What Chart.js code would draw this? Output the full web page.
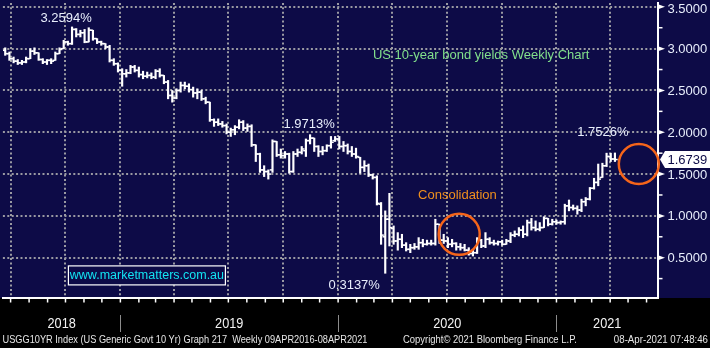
<!DOCTYPE html>
<html>
<head>
<meta charset="utf-8">
<title>US 10-year bond yields Weekly Chart</title>
<script src="https://cdn.jsdelivr.net/npm/chart.js@4.4.0/dist/chart.umd.min.js"></script>
<style>
  html, body { margin: 0; padding: 0; background: #000; }
  #wrap { position: relative; width: 710px; height: 348px; }
</style>
</head>
<body>
<div id="wrap"><canvas id="yieldChart"></canvas></div>
<script>
// USGG10YR weekly bars, first bar is the week ending 22 Jun 2018
const firstWeek = "2018-06-22";

const weekOpen = [
  2.98, 2.94, 2.88, 2.85, 2.83, 2.84, 2.88, 2.97, 2.95, 2.87,
  2.84, 2.86, 2.86, 2.94, 3.00, 3.08, 3.06, 3.23, 3.17, 3.19,
  3.08, 3.22, 3.12, 3.08, 3.06, 3.02, 2.86, 2.82, 2.74, 2.70,
  2.71, 2.78, 2.74, 2.69, 2.67, 2.68, 2.66, 2.73, 2.68, 2.60,
  2.44, 2.41, 2.50, 2.56, 2.55, 2.51, 2.47, 2.48, 2.40, 2.36,
  2.15, 2.12, 2.10, 2.08, 2.00, 2.03, 2.06, 2.12, 2.05, 2.07,
  1.85, 1.74, 1.55, 1.53, 1.55, 1.89, 1.73, 1.72, 1.74, 1.53,
  1.74, 1.76, 1.78, 1.90, 1.93, 1.83, 1.77, 1.78, 1.84, 1.90,
  1.92, 1.83, 1.84, 1.77, 1.74, 1.70, 1.58, 1.60, 1.49, 1.46,
  1.14, 0.75, 0.96, 0.85, 0.70, 0.72, 0.65, 0.60, 0.62, 0.63,
  0.68, 0.66, 0.67, 0.67, 0.90, 0.71, 0.70, 0.66, 0.67, 0.63,
  0.62, 0.59, 0.55, 0.56, 0.71, 0.64, 0.72, 0.68, 0.67, 0.69,
  0.66, 0.70, 0.77, 0.78, 0.83, 0.78, 0.92, 0.86, 0.84, 0.86,
  0.97, 0.90, 0.93, 0.92, 0.93, 1.12, 1.10, 1.09, 1.07, 1.17,
  1.20, 1.33, 1.40, 1.46, 1.60, 1.71, 1.68
];
const weekHigh = [
  3.01, 2.96, 2.90, 2.87, 2.86, 2.90, 3.00, 3.01, 2.95, 2.88,
  2.87, 2.88, 2.96, 3.01, 3.10, 3.09, 3.2594, 3.24, 3.22, 3.23,
  3.25, 3.22, 3.12, 3.09, 3.06, 3.04, 2.88, 2.83, 2.76, 2.75,
  2.80, 2.80, 2.78, 2.73, 2.72, 2.71, 2.75, 2.76, 2.68, 2.62,
  2.50, 2.52, 2.60, 2.60, 2.58, 2.54, 2.52, 2.50, 2.42, 2.36,
  2.16, 2.16, 2.13, 2.10, 2.05, 2.08, 2.15, 2.14, 2.10, 2.09,
  1.85, 1.75, 1.60, 1.55, 1.91, 1.89, 1.80, 1.77, 1.75, 1.77,
  1.80, 1.83, 1.92, 1.9713, 1.93, 1.84, 1.83, 1.85, 1.95, 1.95,
  1.95, 1.89, 1.86, 1.83, 1.81, 1.70, 1.66, 1.62, 1.50, 1.48,
  1.16, 1.06, 1.27, 0.88, 0.80, 0.78, 0.68, 0.66, 0.67, 0.74,
  0.72, 0.71, 0.71, 0.96, 0.90, 0.78, 0.74, 0.72, 0.68, 0.67,
  0.66, 0.62, 0.60, 0.74, 0.72, 0.80, 0.74, 0.71, 0.70, 0.71,
  0.72, 0.80, 0.82, 0.86, 0.88, 0.95, 0.97, 0.94, 0.92, 0.99,
  0.97, 0.96, 0.95, 0.94, 1.14, 1.19, 1.13, 1.12, 1.20, 1.22,
  1.34, 1.45, 1.62, 1.63, 1.75, 1.75, 1.7526
];
const weekLow = [
  2.92, 2.86, 2.83, 2.81, 2.81, 2.83, 2.88, 2.93, 2.86, 2.82,
  2.81, 2.82, 2.86, 2.94, 3.00, 3.04, 3.05, 3.14, 3.14, 3.07,
  3.08, 3.10, 3.06, 3.04, 3.00, 2.84, 2.80, 2.72, 2.55, 2.66,
  2.70, 2.72, 2.66, 2.64, 2.65, 2.64, 2.64, 2.66, 2.58, 2.40,
  2.36, 2.40, 2.48, 2.52, 2.48, 2.42, 2.40, 2.38, 2.34, 2.13,
  2.07, 2.08, 2.06, 1.98, 1.95, 1.97, 2.04, 2.02, 2.01, 1.83,
  1.65, 1.52, 1.47, 1.44, 1.52, 1.71, 1.69, 1.69, 1.51, 1.52,
  1.71, 1.74, 1.71, 1.86, 1.77, 1.71, 1.73, 1.77, 1.81, 1.89,
  1.80, 1.77, 1.74, 1.71, 1.69, 1.51, 1.53, 1.47, 1.44, 1.13,
  0.66, 0.3137, 0.64, 0.66, 0.59, 0.62, 0.58, 0.56, 0.60, 0.60,
  0.63, 0.65, 0.65, 0.65, 0.67, 0.67, 0.62, 0.63, 0.59, 0.59,
  0.58, 0.53, 0.52, 0.55, 0.62, 0.62, 0.66, 0.65, 0.65, 0.65,
  0.66, 0.68, 0.75, 0.76, 0.74, 0.76, 0.83, 0.82, 0.82, 0.86,
  0.88, 0.89, 0.90, 0.90, 0.90, 1.06, 1.07, 1.02, 1.05, 1.12,
  1.19, 1.32, 1.36, 1.46, 1.59, 1.65, 1.65
];
const weekClose = [
  2.94, 2.88, 2.85, 2.83, 2.84, 2.88, 2.97, 2.95, 2.87, 2.84,
  2.86, 2.85, 2.94, 2.99, 3.08, 3.06, 3.23, 3.17, 3.19, 3.08,
  3.22, 3.12, 3.08, 3.06, 3.02, 2.86, 2.82, 2.74, 2.70, 2.71,
  2.78, 2.74, 2.69, 2.67, 2.68, 2.66, 2.73, 2.68, 2.60, 2.44,
  2.41, 2.50, 2.56, 2.55, 2.51, 2.47, 2.48, 2.40, 2.36, 2.15,
  2.12, 2.10, 2.08, 2.00, 2.03, 2.06, 2.12, 2.05, 2.07, 1.85,
  1.74, 1.55, 1.53, 1.50, 1.89, 1.73, 1.72, 1.74, 1.53, 1.74,
  1.76, 1.80, 1.90, 1.93, 1.83, 1.77, 1.78, 1.84, 1.88, 1.92,
  1.83, 1.84, 1.77, 1.74, 1.71, 1.58, 1.60, 1.49, 1.46, 1.15,
  0.77, 0.96, 0.86, 0.70, 0.72, 0.65, 0.60, 0.62, 0.63, 0.68,
  0.66, 0.67, 0.67, 0.90, 0.71, 0.70, 0.66, 0.67, 0.63, 0.62,
  0.59, 0.55, 0.56, 0.71, 0.64, 0.72, 0.68, 0.67, 0.69, 0.66,
  0.70, 0.77, 0.78, 0.83, 0.78, 0.92, 0.86, 0.84, 0.86, 0.97,
  0.90, 0.93, 0.92, 0.93, 1.12, 1.10, 1.09, 1.07, 1.17, 1.20,
  1.33, 1.40, 1.44, 1.60, 1.71, 1.68, 1.6739
];

const yTicks = [0.5, 1.0, 1.5, 2.0, 2.5, 3.0, 3.5];
const yMinorTicks = [0.25, 0.75, 1.25, 1.75, 2.25, 2.75, 3.25];
const years = [2018, 2019, 2020, 2021];

// value callouts on particular bars (index into the weekly arrays)
const callouts = [
  { index: 16, field: "high", dx: -6, dy: -8.5 },
  { index: 73, field: "high", dx: -1, dy: -10 },
  { index: 146, field: "high", dx: -12, dy: -20.5 },
  { index: 91, field: "low", dx: -31, dy: 12 }
];

// highlighted zones: centre in date/yield, radius in px
const rings = [
  { date: "2020-07-22", value: 0.78, r: 20.5 },
  { date: "2021-05-19", value: 1.62, r: 20 }
];

const NAVY = "#0d0b47";
const GRID = "#9a9aa2";
const LABEL = "#e8eefc";
const FONT = '"Liberation Sans", Arial, sans-serif';

// days counted from 1 Jan 2019
const ORIGIN = Date.UTC(2019, 0, 1);
function toDay(s) {
  const [yy, mm, dd] = s.split("-").map(Number);
  return (Date.UTC(yy, mm - 1, dd) - ORIGIN) / 86400000;
}
const xMin = -196.9;
const xMax = 901.2;
const tickDays = 2.3;

const weeks = weekClose.map((_, i) => toDay(firstWeek) + 7 * i);

const quarterDays = [];
const monthDays = [];
for (let yr = 2018; yr <= 2021; yr++) {
  for (let m = 1; m <= 12; m++) {
    const d = toDay(`${yr}-${String(m).padStart(2, "0")}-01`);
    if (d < xMin || d > xMax) continue;
    monthDays.push(d);
    if ((m - 1) % 3 === 0) quarterDays.push(d);
  }
}

function narrowText(ctx, text, x, y, size, align, squeeze, color) {
  ctx.save();
  ctx.font = `${size}px ${FONT}`;
  ctx.textBaseline = "middle";
  ctx.textAlign = "left";
  const w = ctx.measureText(text).width * squeeze;
  const left = align === "center" ? x - w / 2 : align === "right" ? x - w : x;
  ctx.translate(left, y);
  ctx.scale(squeeze, 1);
  ctx.fillStyle = color;
  ctx.fillText(text, 0, 0);
  ctx.restore();
}

const backdrop = {
  id: "backdrop",
  beforeDraw(chart) {
    const { ctx, chartArea } = chart;
    ctx.save();
    ctx.fillStyle = "#000";
    ctx.fillRect(0, 0, chart.width, chart.height);
    ctx.fillStyle = NAVY;
    ctx.fillRect(0, 0, chart.width, chartArea.bottom);
    ctx.restore();
  }
};

const decorations = {
  id: "decorations",
  afterDraw(chart) {
    const { ctx, chartArea: area, scales: { x, y } } = chart;
    ctx.save();

    // right axis: minor ticks, pointers and labels
    ctx.strokeStyle = "#fff";
    ctx.lineWidth = 1.5;
    yMinorTicks.forEach(v => {
      const py = y.getPixelForValue(v);
      ctx.beginPath();
      ctx.moveTo(area.right, py);
      ctx.lineTo(area.right + 4.5, py);
      ctx.stroke();
    });
    ctx.font = `13px ${FONT}`;
    ctx.textBaseline = "middle";
    ctx.textAlign = "left";
    yTicks.forEach(v => {
      const py = y.getPixelForValue(v);
      ctx.fillStyle = "#fff";
      ctx.beginPath();
      ctx.moveTo(area.right, py - 2.5);
      ctx.lineTo(area.right + 7, py);
      ctx.lineTo(area.right, py + 2.5);
      ctx.closePath();
      ctx.fill();
      ctx.fillStyle = LABEL;
      ctx.fillText(v.toFixed(4), area.right + 9.5, Math.max(py + 1, 9));
    });

    // last close tag
    const last = weekClose[weekClose.length - 1];
    const ly = y.getPixelForValue(last);
    ctx.fillStyle = "#fff";
    ctx.beginPath();
    ctx.moveTo(area.right + 2, ly);
    ctx.lineTo(area.right + 7, ly - 8.5);
    ctx.lineTo(chart.width, ly - 8.5);
    ctx.lineTo(chart.width, ly + 8.5);
    ctx.lineTo(area.right + 7, ly + 8.5);
    ctx.closePath();
    ctx.fill();
    ctx.fillStyle = NAVY;
    ctx.fillText(last.toFixed(4), area.right + 9.5, ly + 0.5);

    // month ticks under the time axis
    ctx.strokeStyle = "#fff";
    ctx.lineWidth = 1.5;
    monthDays.forEach(d => {
      const px = x.getPixelForValue(d);
      ctx.beginPath();
      ctx.moveTo(px, area.bottom);
      ctx.lineTo(px, area.bottom + 4.5);
      ctx.stroke();
    });

    // year labels with dividers
    years.forEach(yr => {
      const start = toDay(`${yr}-01-01`);
      const s = Math.max(start, x.min);
      const e = Math.min(toDay(`${yr + 1}-01-01`), x.max);
      if (e <= s) return;
      const cx = (x.getPixelForValue(s) + x.getPixelForValue(e)) / 2;
      narrowText(ctx, String(yr), cx, area.bottom + 26, 15.5, "center", 0.82, "#f2f2f2");
      if (start > x.min) {
        const px = Math.round(x.getPixelForValue(start)) + 0.5;
        ctx.strokeStyle = "#8c8c8c";
        ctx.lineWidth = 1;
        ctx.beginPath();
        ctx.moveTo(px, area.bottom + 17);
        ctx.lineTo(px, area.bottom + 34);
        ctx.stroke();
      }
    });

    // footer line
    const fy = chart.height - 8;
    narrowText(ctx, "USGG10YR Index (US Generic Govt 10 Yr) Graph 217  Weekly 09APR2016-08APR2021", 2.5, fy, 11.25, "left", 0.82, "#e6e6e6");
    narrowText(ctx, "Copyright\u00a9 2021 Bloomberg Finance L.P.", 403, fy, 11.25, "left", 0.84, "#e6e6e6");
    narrowText(ctx, "08-Apr-2021 07:48:46", chart.width - 2, fy, 11.25, "right", 0.86, "#e6e6e6");

    // value callouts
    ctx.font = `13px ${FONT}`;
    ctx.textAlign = "center";
    ctx.fillStyle = LABEL;
    callouts.forEach(c => {
      const v = c.field === "high" ? weekHigh[c.index] : weekLow[c.index];
      const px = x.getPixelForValue(weeks[c.index]) + c.dx;
      const py = y.getPixelForValue(v) + c.dy;
      ctx.fillText(v.toFixed(4) + "%", px, py);
    });

    // headline
    ctx.textAlign = "left";
    ctx.fillStyle = "#82e08c";
    ctx.fillText("US 10-year bond yields Weekly Chart", area.left + 370, area.top + 53);

    // consolidation note and rings
    ctx.fillStyle = "#f0901e";
    ctx.fillText("Consolidation", x.getPixelForValue(toDay("2020-05-14")), y.getPixelForValue(1.24));
    ctx.strokeStyle = "#f5651a";
    ctx.lineWidth = 2.5;
    rings.forEach(r => {
      ctx.beginPath();
      ctx.arc(x.getPixelForValue(toDay(r.date)), y.getPixelForValue(r.value), r.r, 0, Math.PI * 2);
      ctx.stroke();
    });

    // site tag
    const bx = area.left + 65.5, by = area.top + 263, bw = 157, bh = 19;
    ctx.fillStyle = NAVY;
    ctx.fillRect(bx, by, bw, bh);
    ctx.strokeStyle = "#fff";
    ctx.lineWidth = 1.2;
    ctx.strokeRect(bx, by, bw, bh);
    ctx.font = `12.5px ${FONT}`;
    ctx.textAlign = "center";
    ctx.fillStyle = "#12e4f2";
    ctx.fillText("www.marketmatters.com.au", bx + bw / 2, by + bh / 2 + 0.5);

    ctx.restore();
  }
};

const ctx = document.getElementById("yieldChart").getContext("2d");
new Chart(ctx, {
  type: "bar",
  data: {
    datasets: [
      {
        type: "bar",
        data: weeks.map((d, i) => ({ x: d, y: [weekLow[i], weekHigh[i]] })),
        backgroundColor: "#ffffff",
        borderWidth: 0,
        barThickness: 1.5
      },
      {
        type: "line",
        data: weeks.map((d, i) => ({ x: d - tickDays, y: weekOpen[i] })),
        showLine: false,
        pointStyle: "line",
        pointRadius: 1.4,
        pointHoverRadius: 1.4,
        pointBorderWidth: 1.5,
        pointBorderColor: "#ffffff"
      },
      {
        type: "line",
        data: weeks.map((d, i) => ({ x: d + tickDays, y: weekClose[i] })),
        showLine: false,
        pointStyle: "line",
        pointRadius: 1.4,
        pointHoverRadius: 1.4,
        pointBorderWidth: 1.5,
        pointBorderColor: "#ffffff"
      }
    ]
  },
  options: {
    responsive: true,
    maintainAspectRatio: false,
    animation: false,
    events: [],
    layout: { padding: 0 },
    plugins: {
      legend: { display: false },
      tooltip: { enabled: false }
    },
    scales: {
      x: {
        type: "linear",
        min: xMin,
        max: xMax,
        bounds: "data",
        offset: false,
        afterBuildTicks: scale => { scale.ticks = quarterDays.map(v => ({ value: v })); },
        afterFit: scale => { scale.height = 50; },
        ticks: { display: false },
        grid: { color: GRID, lineWidth: 2, drawTicks: false, offset: false },
        border: { color: "#ffffff", width: 2, dash: [2, 2.4] }
      },
      y: {
        type: "linear",
        position: "right",
        min: 0.018,
        max: 3.547,
        bounds: "data",
        afterBuildTicks: scale => { scale.ticks = yTicks.map(v => ({ value: v })); },
        afterFit: scale => { scale.width = 52; },
        ticks: { display: false },
        grid: { color: GRID, lineWidth: 2, drawTicks: false },
        border: { color: "#ffffff", width: 2, dash: [2, 2.4] }
      }
    }
  },
  plugins: [backdrop, decorations]
});
</script>
</body>
</html>
